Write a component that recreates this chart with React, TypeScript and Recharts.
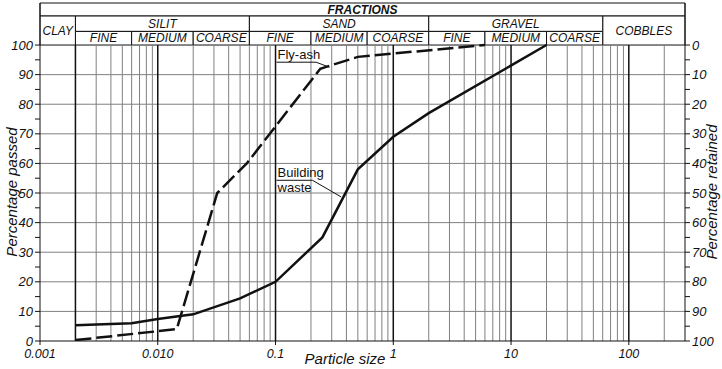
import React from "react";
import {
  ComposedChart,
  Line,
  XAxis,
  YAxis,
  ReferenceLine,
  ReferenceArea,
} from "recharts";

// grain size distribution curves (particle size in mm, % passed)
const flyAshSize = [0.002, 0.0145, 0.032, 0.057, 0.24, 0.5, 6];
const flyAshPassed = [0.3, 4, 50, 60, 92, 96, 100];

const wasteSize = [0.002, 0.006, 0.01, 0.02, 0.05, 0.1, 0.25, 0.5, 1, 2, 20];
const wastePassed = [5.3, 6, 7.4, 9, 14.4, 20, 35, 58, 69, 77, 100];

const xTicks = [0.001, 0.01, 0.1, 1, 10, 100];
const xTickLabels = ["0.001", "0.010", "0.1", "1", "10", "100"];
const yTicks = [0, 5, 10, 15, 20, 25, 30, 35, 40, 45, 50, 55, 60, 65, 70, 75, 80, 85, 90, 95, 100];
const hGrid = [10, 20, 30, 40, 50, 60, 70, 80, 90];

// fraction table above the plot
const mainFractions = ["SILIT", "SAND", "GRAVEL"];
const mainBounds = [0.002, 0.06, 2, 60];
const subFractions = ["FINE", "MEDIUM", "COARSE"];
const subBounds = [
  [0.002, 0.006, 0.02, 0.06],
  [0.06, 0.2, 0.6, 2],
  [2, 6, 20, 60],
];

const X_MIN = 0.001;
const X_MAX = 300;
const Y_TOP = 114.2;
const ROW1 = 109.8;
const ROW2 = 104.6;

const decades = [0.001, 0.01, 0.1, 1, 10, 100];
const minorLines: number[] = [];
decades.forEach((d) => {
  for (let m = 2; m <= 9; m++) {
    const v = d * m;
    if (v < X_MAX) minorLines.push(v);
  }
});
const darkLines = [0.002, 0.01, 0.1, 1, 10, 100];

const flyAsh = flyAshSize.map((s, i) => ({ size: s, passed: flyAshPassed[i] }));
const waste = wasteSize.map((s, i) => ({ size: s, passed: wastePassed[i] }));

const txt = { fill: "#111", fontStyle: "italic", fontSize: 12 };

export default function App() {
  return (
    <div style={{ position: "absolute", left: 0, top: 0, fontFamily: "'Liberation Sans', Arial, sans-serif" }}>
      <ComposedChart width={722} height={369} margin={{ top: 3, right: 0, left: 0, bottom: 0 }}>
        <XAxis
          dataKey="size"
          type="number"
          scale="log"
          domain={[X_MIN, X_MAX]}
          allowDataOverflow
          ticks={xTicks}
          tickFormatter={(v, i) => xTickLabels[i]}
          height={28}
          tickSize={4}
          tickMargin={4}
          stroke="#111"
          tick={{ fill: "#111", fontSize: 12.5, fontStyle: "italic" }}
          label={() => (
            <text x={345} y={364} textAnchor="middle" fill="#111" fontSize={15} fontStyle="italic">
              Particle size
            </text>
          )}
        />
        <YAxis
          yAxisId="left"
          type="number"
          domain={[0, Y_TOP]}
          allowDataOverflow
          ticks={yTicks}
          interval={0}
          tickFormatter={(v) => (v % 10 === 0 ? String(v) : "")}
          width={40}
          tickSize={5}
          tickMargin={2}
          stroke="#111"
          tick={{ fill: "#111", fontSize: 13, fontStyle: "italic" }}
          label={() => (
            <text x={17} y={192} transform="rotate(-90, 17, 192)" textAnchor="middle" fill="#111" fontSize={15} fontStyle="italic">
              Percentage passed
            </text>
          )}
        />
        <YAxis
          yAxisId="right"
          orientation="right"
          type="number"
          domain={[0, Y_TOP]}
          allowDataOverflow
          ticks={yTicks}
          interval={0}
          tickFormatter={(v) => (v % 10 === 0 ? String(100 - v) : "")}
          width={37}
          tickSize={5}
          tickMargin={2}
          stroke="#111"
          tick={{ fill: "#111", fontSize: 13, fontStyle: "italic", textAnchor: "start" }}
          label={() => (
            <text x={717} y={192} transform="rotate(-90, 717, 192)" textAnchor="middle" fill="#111" fontSize={15} fontStyle="italic">
              Percentage retained
            </text>
          )}
        />

        {/* grid */}
        {minorLines.map((v) => (
          <ReferenceLine key={"m" + v} yAxisId="left" segment={[{ x: v, y: 0 }, { x: v, y: 100 }]} stroke="#808080" strokeWidth={1} />
        ))}
        {hGrid.map((v) => (
          <ReferenceLine key={"h" + v} yAxisId="left" y={v} stroke="#808080" strokeWidth={1} />
        ))}
        {darkLines.map((v) => (
          <ReferenceLine key={"d" + v} yAxisId="left" segment={[{ x: v, y: 0 }, { x: v, y: 100 }]} stroke="#111" strokeWidth={1.5} />
        ))}

        {/* header table */}
        <ReferenceArea yAxisId="left" x1={X_MIN} x2={X_MAX} y1={ROW1} y2={Y_TOP} fill="#fff" fillOpacity={1} stroke="#111"
          label={{ value: "FRACTIONS", position: "center", ...txt, fontWeight: "bold" }} />
        <ReferenceArea yAxisId="left" x1={X_MIN} x2={0.002} y1={100} y2={ROW1} fill="#fff" fillOpacity={1} stroke="#111"
          label={{ value: "CLAY", position: "center", ...txt }} />
        <ReferenceArea yAxisId="left" x1={60} x2={X_MAX} y1={100} y2={ROW1} fill="#fff" fillOpacity={1} stroke="#111"
          label={{ value: "COBBLES", position: "center", ...txt }} />
        {mainFractions.map((name, i) => (
          <ReferenceArea key={name} yAxisId="left" x1={mainBounds[i]} x2={mainBounds[i + 1]} y1={ROW2} y2={ROW1}
            fill="#fff" fillOpacity={1} stroke="#111" label={{ value: name, position: "center", ...txt }} />
        ))}
        {subBounds.map((b, j) =>
          subFractions.map((name, i) => (
            <ReferenceArea key={name + j} yAxisId="left" x1={b[i]} x2={b[i + 1]} y1={100} y2={ROW2}
              fill="#fff" fillOpacity={1} stroke="#111" label={{ value: name, position: "center", ...txt }} />
          ))
        )}

        {/* curve labels */}
        <ReferenceArea yAxisId="left" x1={0.102} x2={0.225} y1={94.3} y2={99.3} fill="#fff" fillOpacity={1} stroke="none"
          label={{ value: "Fly-ash", position: "insideLeft", offset: 1, fill: "#111", fontSize: 13 }} />
        <ReferenceLine yAxisId="left" segment={[{ x: 0.102, y: 94.2 }, { x: 0.221, y: 94.2 }]} stroke="#111" strokeWidth={1} />
        <ReferenceLine yAxisId="left" segment={[{ x: 0.221, y: 94.2 }, { x: 0.287, y: 92.5 }]} stroke="#111" strokeWidth={1} />

        <ReferenceArea yAxisId="left" x1={0.102} x2={0.245} y1={54.5} y2={59.3} fill="#fff" fillOpacity={1} stroke="none"
          label={{ value: "Building", position: "insideLeft", offset: 1, fill: "#111", fontSize: 13 }} />
        <ReferenceArea yAxisId="left" x1={0.102} x2={0.195} y1={49.4} y2={54.2} fill="#fff" fillOpacity={1} stroke="none"
          label={{ value: "waste", position: "insideLeft", offset: 1, fill: "#111", fontSize: 13 }} />
        <ReferenceLine yAxisId="left" segment={[{ x: 0.102, y: 54.3 }, { x: 0.206, y: 54.3 }]} stroke="#111" strokeWidth={1} />
        <ReferenceLine yAxisId="left" segment={[{ x: 0.206, y: 54.3 }, { x: 0.36, y: 48.7 }]} stroke="#111" strokeWidth={1} />

        {/* curves */}
        <Line yAxisId="left" data={waste} dataKey="passed" type="linear" stroke="#111" strokeWidth={2.5}
          dot={false} isAnimationActive={false} />
        <Line yAxisId="left" data={flyAsh} dataKey="passed" type="linear" stroke="#111" strokeWidth={2.5}
          strokeDasharray="16 5" dot={false} isAnimationActive={false} />
      </ComposedChart>
    </div>
  );
}
